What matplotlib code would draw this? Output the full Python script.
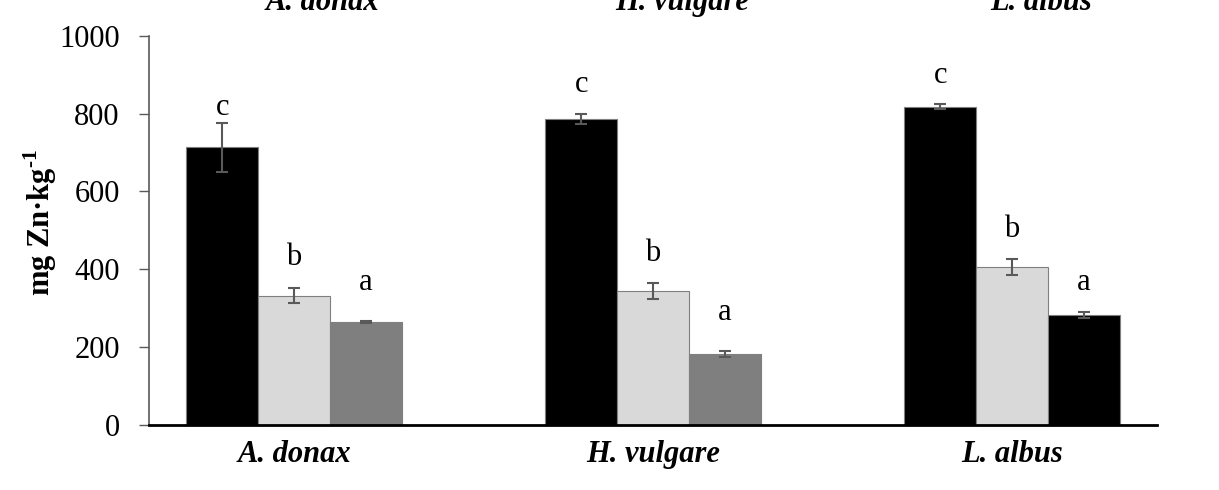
import matplotlib
matplotlib.use("Agg")
import matplotlib.pyplot as plt
import matplotlib.transforms as mtransforms
import numpy as np

plt.rcParams["font.family"] = ["Liberation Serif", "DejaVu Serif"]
plt.rcParams["mathtext.fontset"] = "custom"
plt.rcParams["mathtext.rm"] = "Liberation Serif"
plt.rcParams["mathtext.bf"] = "Liberation Serif:bold"

species = ["A. donax", "H. vulgare", "L. albus"]

# Zn concentration (mg/kg) for the three treatments in each species
treat1 = [713, 787, 818]
treat2 = [332, 344, 406]
treat3 = [265, 182, 282]
err1 = [62, 13, 7]
err2 = [19, 20, 20]
err3 = [2, 7.5, 7]

# significance letters and their heights
letters1 = ["c", "c", "c"]
letters2 = ["b", "b", "b"]
letters3 = ["a", "a", "a"]
letter_y1 = [797, 856, 878]
letter_y2 = [411, 420, 484]
letter_y3 = [347, 270, 347]

colors1 = ["#000000", "#000000", "#000000"]
colors2 = ["#d9d9d9", "#d9d9d9", "#d9d9d9"]
colors3 = ["#7f7f7f", "#7f7f7f", "#000000"]

fig = plt.figure(figsize=(12.19, 4.90), dpi=100)
ax = fig.add_axes([149 / 1219, 1 - 425 / 490, (1157 - 149) / 1219, (425 - 35.7) / 490])

x = np.arange(len(species))
w = 0.2
err_kw = dict(ecolor="#595959", elinewidth=1.5, capsize=4.5, capthick=1.5)

for off, vals, errs, cols, lets, ly in [
    (-w, treat1, err1, colors1, letters1, letter_y1),
    (0, treat2, err2, colors2, letters2, letter_y2),
    (w, treat3, err3, colors3, letters3, letter_y3),
]:
    ax.bar(x + off, vals, w, color=cols, edgecolor="#7f7f7f", linewidth=0.8,
           yerr=errs, error_kw=err_kw, zorder=2)
    for xi, l, yy in zip(x + off, lets, ly):
        ax.text(xi, yy, l, ha="center", va="baseline", fontsize=22)

ax.set_xlim(-0.404, 2.404)
ax.set_ylim(0, 1000)
ax.set_yticks(np.arange(0, 1001, 200))
ax.tick_params(axis="y", labelsize=22, length=7, width=1, color="#595959", pad=14)
ax.set_xticks([])

for s in ["top", "right"]:
    ax.spines[s].set_visible(False)
ax.spines["left"].set_color("#595959")
ax.spines["left"].set_linewidth(1.2)
ax.spines["bottom"].set_color("#000000")
ax.spines["bottom"].set_linewidth(2)

# category names below the axis and repeated along the top edge
trans = mtransforms.blended_transform_factory(ax.transData, fig.transFigure)
for xi, name in zip(x, species):
    ax.text(xi, 1 - 462 / 490, name, transform=trans, ha="center", va="baseline",
            fontsize=22, fontweight="bold", fontstyle="italic")
    ax.text(xi + 0.08, 1 - 10 / 490, name, transform=trans, ha="center", va="baseline",
            fontsize=22, fontweight="bold", fontstyle="italic", clip_on=False)

fig.text(40 / 1219, 1 - 222 / 490, "mg Zn·kg$^{\\mathbf{\u2010}\\mathbf{1}}$", rotation=90,
         ha="center", va="center", fontsize=22, fontweight="bold")

fig.savefig("out.png", dpi=100)
